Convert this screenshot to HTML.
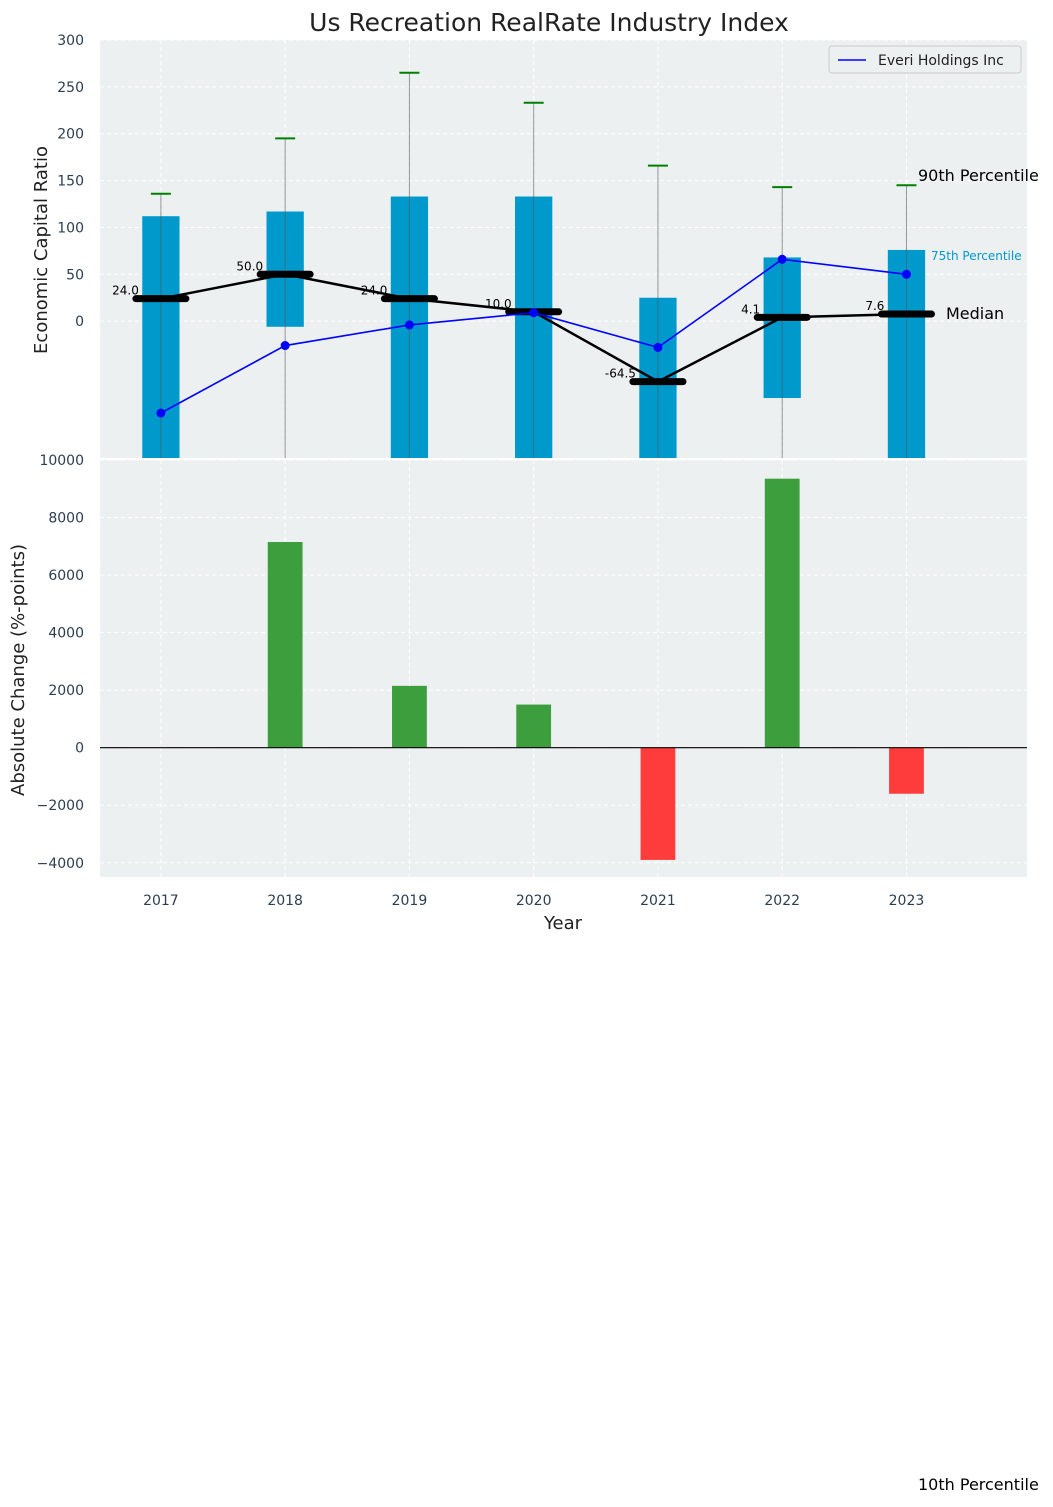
<!DOCTYPE html>
<html><head><meta charset="utf-8"><style>
body{margin:0;background:#fff;font-family:"DejaVu Sans","Liberation Sans",sans-serif;}
svg text{font-family:"DejaVu Sans","Liberation Sans",sans-serif;}
</style></head><body>
<svg id="c" width="1053" height="1503" xmlns="http://www.w3.org/2000/svg"></svg>
<script>
const years=["2017","2018","2019","2020","2021","2022","2023"];
const p75=[112,117,133,133,25,68,76];
const p25=[-200,-6,-200,-200,-200,-82,-200];
const p90=[136,195,265,233,166,143,145];
const p10=[-300,-300,-300,-300,-300,-300,-300];
const median=[24,50,24,10,-64.5,4.1,7.6];
const medianLabels=["24.0","50.0","24.0","10.0","-64.5","4.1","7.6"];
const everi=[-98,-26,-4,9,-28,66,50];
const change=[0,7150,2150,1500,-3900,9350,-1600];
const topTicks=[0,50,100,150,200,250,300];
const botTicks=[-4000,-2000,0,2000,4000,6000,8000,10000];

const svg=document.getElementById('c');const NS='http://www.w3.org/2000/svg';
function mk(t,a,p){const e=document.createElementNS(NS,t);for(const k in a)e.setAttribute(k,a[k]);(p||svg).appendChild(e);return e;}
const L=100,R=1027;
const x=i=>L+(i+0.49)*(R-L)/7.46;
const T0=40,T1=458,tmin=-146,tmax=300;
const yt=v=>T1-(Math.max(tmin,Math.min(tmax,v))-tmin)/(tmax-tmin)*(T1-T0);
const B0=460,B1=877,bmin=-4494,bmax=10000;
const yb=v=>B1-(v-bmin)/(bmax-bmin)*(B1-B0);

let e=mk('rect',{x:L,y:T0,width:R-L,height:T1-T0,fill:'#ecf0f1'});

e=mk('rect',{x:L,y:B0,width:R-L,height:B1-B0,fill:'#ecf0f1'});

topTicks.forEach(v=>{mk('line',{x1:L,x2:R,y1:yt(v),y2:yt(v),stroke:'#fff','stroke-dasharray':'4,3'});
 e=mk('text',{x:L-16,y:yt(v)+5,'text-anchor':'end','font-size':14,fill:'#2c3e50'});e.textContent=v;
 });
botTicks.forEach(v=>{mk('line',{x1:L,x2:R,y1:yb(v),y2:yb(v),stroke:'#fff','stroke-dasharray':'4,3'});
 e=mk('text',{x:L-16,y:yb(v)+5,'text-anchor':'end','font-size':14,fill:'#2c3e50'});e.textContent=(v<0?'\u2212'+(-v):v);
 });
years.forEach((y,i)=>{mk('line',{x1:x(i),x2:x(i),y1:T0,y2:T1,stroke:'#fff','stroke-dasharray':'4,3'});
 mk('line',{x1:x(i),x2:x(i),y1:B0,y2:B1,stroke:'#fff','stroke-dasharray':'4,3'});
 e=mk('text',{x:x(i),y:905,'text-anchor':'middle','font-size':14,fill:'#2c3e50'});e.textContent=y;
 });
const bw=0.3*(R-L)/7.46;
years.forEach((y,i)=>{
 e=mk('rect',{x:x(i)-bw/2,y:yt(p75[i]),width:bw,height:yt(p25[i])-yt(p75[i]),fill:'#0099cc'});
 
 e=mk('line',{x1:x(i),x2:x(i),y1:yt(p90[i]),y2:yt(p10[i]),stroke:'#555','stroke-width':1,opacity:0.6});
 
 e=mk('line',{x1:x(i)-10,x2:x(i)+10,y1:yt(p90[i]),y2:yt(p90[i]),stroke:'green','stroke-width':2});
 
});
e=mk('polyline',{points:median.map((v,i)=>x(i)+','+yt(v)).join(' '),fill:'none',stroke:'#000','stroke-width':2.5});

median.forEach((v,i)=>{
 e=mk('line',{x1:x(i)-25,x2:x(i)+25,y1:yt(v),y2:yt(v),stroke:'#000','stroke-width':7,'stroke-linecap':'round'});
 
 e=mk('text',{x:x(i)-22,y:yt(v)-4,'text-anchor':'end','font-size':12,fill:'#000'});e.textContent=medianLabels[i];
 
});
e=mk('polyline',{points:everi.map((v,i)=>x(i)+','+yt(v)).join(' '),fill:'none',stroke:'#0000ff','stroke-width':1.6});

everi.forEach((v,i)=>{e=mk('circle',{cx:x(i),cy:yt(v),r:4.5,fill:'#0000ff'});
 });
const bw2=0.28*(R-L)/7.46;
change.forEach((v,i)=>{e=mk('rect',{x:x(i)-bw2/2,y:Math.min(yb(v),yb(0)),width:bw2,height:Math.abs(yb(v)-yb(0)),fill:v>=0?'#3c9e3c':'#ff3c3c'});
 });
mk('line',{x1:L,x2:R,y1:yb(0),y2:yb(0),stroke:'#000','stroke-width':1.2});
function tx(s,a,n){const t=mk('text',a);t.textContent=s;return t;}
tx('Us Recreation RealRate Industry Index',{x:549,y:31,'text-anchor':'middle','font-size':25,fill:'#222'},'chart-title');
tx('Economic Capital Ratio',{x:47,y:250,'text-anchor':'middle','font-size':18,fill:'#222',transform:'rotate(-90 47 250)'},'top-y-axis-title');
tx('Absolute Change (%-points)',{x:24,y:670,'text-anchor':'middle','font-size':18,fill:'#222',transform:'rotate(-90 24 670)'},'bottom-y-axis-title');
tx('Year',{x:563,y:929,'text-anchor':'middle','font-size':18,fill:'#222'},'x-axis-title');
tx('90th Percentile',{x:918,y:181,'font-size':16,fill:'#000'},'p90-label');
tx('75th Percentile',{x:931,y:260,'font-size':12,fill:'#0099cc'},'p75-label');
tx('Median',{x:946,y:319,'font-size':16,fill:'#000'},'median-text-label');
tx('10th Percentile',{x:918,y:1490,'font-size':16,fill:'#000'},'p10-label');
e=mk('rect',{x:829,y:46,width:192,height:27,fill:'#ecf0f1',stroke:'#ccc',rx:3});

mk('line',{x1:838,x2:866,y1:60,y2:60,stroke:'#0000ff','stroke-width':1.6});
tx('Everi Holdings Inc',{x:878,y:65,'font-size':14,fill:'#222'},'legend-entry-everi');
</script>
</body></html>
